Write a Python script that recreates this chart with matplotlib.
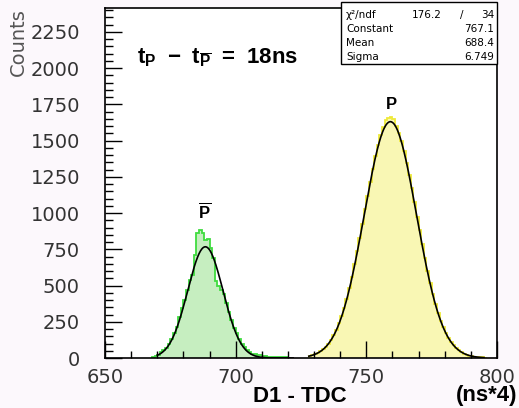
import numpy as np
import matplotlib
matplotlib.use("Agg")
import matplotlib.pyplot as plt
from matplotlib.patches import Rectangle

# D1 TDC spectrum, 1 channel per bin
pbar_start = 668
pbar_counts = [8, 12, 20, 40, 55, 70, 95, 130, 170, 215,
               280, 345, 400, 470, 540, 575, 710, 865, 880, 860,
               815, 820, 760, 690, 530, 500, 470, 440, 380, 315,
               260, 210, 170, 130, 100, 75, 55, 40, 30, 25,
               20, 18, 15, 12, 10, 10, 8, 8, 6, 6,
               5, 4, 3]

p_start = 728
p_counts = [12, 18, 25, 34, 45, 60, 78, 100, 125, 158,
            195, 238, 290, 345, 410, 482, 560, 645, 735, 830,
            925, 1025, 1120, 1215, 1305, 1390, 1470, 1535, 1590, 1640,
            1655, 1660, 1645, 1600, 1550, 1495, 1425, 1345, 1260, 1170,
            1075, 975, 880, 785, 690, 600, 515, 440, 372, 312,
            258, 212, 172, 138, 110, 87, 68, 52, 40, 31,
            23, 17, 13, 10, 7, 5, 4, 3]

# gaus fit results (constant, mean, sigma) and fit ranges
pbar_fit = (767.1, 688.4, 6.749)
pbar_range = (670, 722)
p_fit = (1630.0, 759.2, 10.0)
p_range = (728, 795)

stats_rows = [("\u03c7\u00b2/ndf", "176.2", "34"),
              ("Constant", "767.1", None),
              ("Mean", "688.4", None),
              ("Sigma", "6.749", None)]


def gaus(x, c, m, s):
    return c * np.exp(-0.5 * ((x - m) / s) ** 2)


plt.rcParams['mathtext.fontset'] = 'custom'
plt.rcParams['mathtext.bf'] = 'Liberation Sans:bold'
plt.rcParams['mathtext.rm'] = 'Liberation Sans'

fig = plt.figure(figsize=(5.19, 4.08), dpi=100, facecolor='#fcf8fc')
W, H = 519, 408
ax = fig.add_axes([105 / W, 1 - 358 / H, 392 / W, 350 / H])
ax.set_facecolor('white')

# histograms
e1 = np.arange(pbar_start, pbar_start + len(pbar_counts) + 1)
ax.stairs(pbar_counts, e1, fill=True, facecolor='#c6eec0', linewidth=0)
ax.stairs(pbar_counts, e1, color='#3fdc3f', linewidth=1.3)

e2 = np.arange(p_start, p_start + len(p_counts) + 1)
ax.stairs(p_counts, e2, fill=True, facecolor='#f9f7b4', linewidth=0)
ax.stairs(p_counts, e2, color='#eee93a', linewidth=1.3)

# fit curves
x1 = np.linspace(*pbar_range, 300)
ax.plot(x1, gaus(x1, *pbar_fit), color='black', lw=1.2, zorder=3)
x2 = np.linspace(*p_range, 300)
ax.plot(x2, gaus(x2, *p_fit), color='black', lw=1.2, zorder=3)

ax.set_xlim(650, 800)
ax.set_ylim(0, 2414)
ax.set_xticks([650, 700, 750, 800])
ax.set_xticks(np.arange(650, 801, 10), minor=True)
ax.set_yticks(np.arange(0, 2251, 250))
ax.set_yticks(np.arange(0, 2401, 50), minor=True)
ax.tick_params(which='both', direction='in', colors='black', width=1)
ax.tick_params(axis='y', which='major', length=12, pad=18, labelsize=14,
               labelcolor='#333333')
ax.tick_params(axis='y', which='minor', length=6)
ax.tick_params(axis='x', which='major', length=12, pad=7, labelsize=14,
               labelcolor='#333333')
ax.tick_params(axis='x', which='minor', length=5)
for sp in ax.spines.values():
    sp.set_linewidth(1.2)

# axis titles
fig.text(18 / W, 1 - 8 / H, 'Counts', rotation=90, ha='center', va='top',
         fontsize=14, color='#555555')
fig.text(300 / W, 1 - 396 / H, 'D1 - TDC', ha='center', va='center',
         fontsize=16, fontweight='bold', family='Liberation Sans')
fig.text(517 / W, 1 - 396 / H, '(ns*4)', ha='right', va='center',
         fontsize=16, fontweight='bold', family='Liberation Sans')

# annotations
fig.text(137 / W, 1 - 58 / H,
         r'$\mathbf{t}_{\mathbf{P}}\mathbf{\ -\ t}_{\overline{\mathbf{P}}}$'
         r'$\mathbf{\ =\ 18ns}$',
         ha='left', va='center', fontsize=16,
         bbox=dict(facecolor='white', edgecolor='none', pad=6))
fig.text(205 / W, 1 - 212 / H, r'$\overline{\mathbf{P}}$', ha='center',
         va='center', fontsize=12)
fig.text(391 / W, 1 - 104 / H, r'$\mathbf{P}$', ha='center', va='center',
         fontsize=12)

# stats box
fig.patches.append(Rectangle((341 / W, 1 - 64 / H), 156 / W, 62 / H,
                             transform=fig.transFigure, facecolor='white',
                             edgecolor='black', linewidth=1, zorder=5))
row_y = [15, 29, 43, 57]
for (name, val, extra), yy in zip(stats_rows, row_y):
    fig.text(346 / W, 1 - yy / H, name, fontsize=7.5, va='center', zorder=6)
    if extra is None:
        fig.text(494 / W, 1 - yy / H, val, fontsize=7.5, va='center',
                 ha='right', zorder=6)
    else:
        fig.text(442 / W, 1 - yy / H, val, fontsize=7.5, va='center',
                 ha='right', zorder=6)
        fig.text(462 / W, 1 - yy / H, '/', fontsize=7.5, va='center',
                 ha='center', zorder=6)
        fig.text(494 / W, 1 - yy / H, extra, fontsize=7.5, va='center',
                 ha='right', zorder=6)

fig.savefig('out.png', dpi=100, facecolor=fig.get_facecolor())
